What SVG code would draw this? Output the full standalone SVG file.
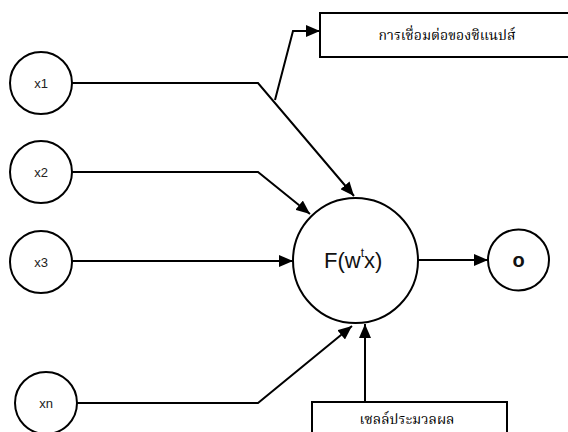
<svg xmlns="http://www.w3.org/2000/svg" width="568" height="432" viewBox="0 0 568 432">
<defs>
<marker id="ah" viewBox="0 0 14 12" refX="14" refY="6" markerWidth="14" markerHeight="12" markerUnits="userSpaceOnUse" orient="auto">
<path d="M0,0 L14,6 L0,12 Z" fill="#000"/>
</marker>
<style>
.n{fill:#fff;stroke:#000;stroke-width:2}
.c{fill:none;stroke:#000;stroke-width:2;marker-end:url(#ah)}
.t{font-family:"Liberation Sans",Arial,sans-serif;font-size:13px;fill:#222;text-anchor:middle}
.th{font-family:"Noto Serif Thai","Liberation Serif","Noto Sans",serif;font-size:14px;fill:#000;text-anchor:middle}
</style>
</defs>
<rect width="568" height="432" fill="#fff"/>
<g id="connectors">
<polyline class="c" points="72,83 258,83 354,196"/>
<polyline class="c" points="72,172 258,172 310,214"/>
<line class="c" x1="72" y1="261" x2="293" y2="261"/>
<polyline class="c" points="76,403 258,403 352,326"/>
<line class="c" x1="365" y1="402" x2="365" y2="324"/>
<line class="c" x1="418" y1="260" x2="488" y2="260"/>
<polyline class="c" points="275,100 293,31 320,31"/>
</g>
<g id="x1"><circle class="n" cx="41" cy="83" r="31"/><text class="t" x="41" y="88">x1</text></g>
<g id="x2"><circle class="n" cx="41" cy="172" r="31"/><text class="t" x="41" y="177">x2</text></g>
<g id="x3"><circle class="n" cx="41" cy="262" r="31"/><text class="t" x="41" y="267">x3</text></g>
<g id="xn"><circle class="n" cx="46" cy="403" r="31"/><text class="t" x="46" y="408">xn</text></g>
<g id="neuron"><circle class="n" cx="355.5" cy="260.5" r="62.5"/><text font-family="Liberation Sans,Arial,sans-serif" font-size="22" fill="#111" x="324" y="268">F(w<tspan font-size="12" dy="-11">t</tspan><tspan dy="11">x)</tspan></text></g>
<g id="output"><circle class="n" cx="518.5" cy="260" r="30.5"/><text font-family="Liberation Sans,Arial,sans-serif" font-size="20" font-weight="bold" fill="#111" text-anchor="middle" x="518.5" y="267">o</text></g>
<g id="synapse"><rect class="n" x="320" y="13" width="260" height="44"/><text class="th" x="447" y="40">การเชื่อมต่อของซิแนปส์</text></g>
<g id="cell"><rect class="n" x="312" y="402" width="195" height="40"/><text class="th" x="407" y="424">เซลล์ประมวลผล</text></g>
</svg>
